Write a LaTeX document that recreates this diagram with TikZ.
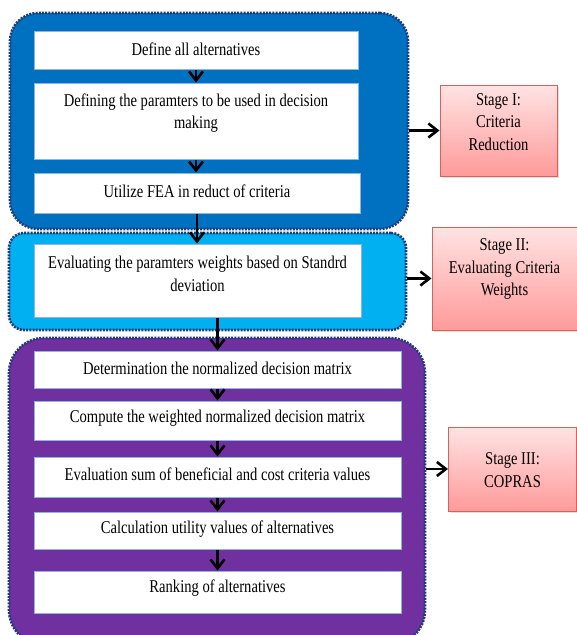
\documentclass[tikz,border=0pt]{standalone}
\usepackage{fontspec}
\setmainfont[FakeStretch=0.81]{Liberation Serif}
\usetikzlibrary{arrows.meta,shadows}
\definecolor{cblue}{HTML}{0070C0}
\definecolor{clight}{HTML}{00B0F0}
\definecolor{cpurple}{HTML}{7030A0}
\definecolor{cnavy}{HTML}{1F3C78}
\definecolor{boxline}{HTML}{8EB4E3}
\definecolor{stagetop}{HTML}{FFE3E3}
\definecolor{stagebot}{HTML}{FF9A9A}
\definecolor{stageline}{HTML}{D9605C}
\begin{document}
\begin{tikzpicture}[x=1pt,y=-1pt,
  container/.style={draw=cnavy, line width=2.6pt, dash pattern=on 2pt off 1.2pt, inner sep=0pt},
  inbox/.style={draw=boxline, fill=white, line width=1pt, inner sep=0pt},
  stagebox/.style={draw=stageline, line width=1pt, top color=stagetop, bottom color=stagebot,
    inner sep=0pt, drop shadow={shadow xshift=2pt, shadow yshift=-2pt, opacity=0.25}},
  txt/.style={align=center, inner sep=0pt, font=\fontsize{18}{22.5}\selectfont},
  flow/.style={line width=2.6pt, -{Straight Barb[length=9pt,width=14pt,line width=2.6pt]}}
]
\useasboundingbox (0,0) rectangle (577,635);

% containers
\node[container, fill=cblue, rounded corners=28pt, minimum width=398pt, minimum height=216pt] (c1) at (209,121) {};
\node[container, fill=clight, rounded corners=15pt, minimum width=397pt, minimum height=97pt] (c2) at (207.5,281.5) {};
\node[container, fill=cpurple, rounded corners=35pt, minimum width=416pt, minimum height=307pt] (c3) at (217,491.5) {};

% inner boxes
\node[inbox, minimum width=324pt, minimum height=38pt] (A) at (196,50) {};
\node[inbox, minimum width=324pt, minimum height=76pt] (B) at (196,121) {};
\node[inbox, minimum width=326pt, minimum height=40pt] (C) at (197,193) {};
\node[inbox, minimum width=327pt, minimum height=73pt] (D) at (197.5,280.5) {};
\node[inbox, minimum width=367pt, minimum height=37pt] (E) at (217.5,369.5) {};
\node[inbox, minimum width=367pt, minimum height=39pt] (F) at (217.5,420.5) {};
\node[inbox, minimum width=367pt, minimum height=40pt] (G) at (217.5,477) {};
\node[inbox, minimum width=367pt, minimum height=37pt] (H) at (217.5,530.5) {};
\node[inbox, minimum width=367pt, minimum height=42pt] (I) at (217.5,592) {};

% texts of inner boxes
\node[txt] (tA) at (196,49) {Define all alternatives};
\node[txt] (tB) at (196,113) {Defining the paramters to be used in decision\\making};
\node[txt] (tC) at (197,191) {Utilize FEA in reduct of criteria};
\node[txt] (tD) at (197.5,274) {Evaluating the paramters weights based on Standrd\\deviation};
\node[txt] (tE) at (217.5,368) {Determination the normalized decision matrix};
\node[txt] (tF) at (217.5,418) {Compute the weighted normalized decision matrix};
\node[txt] (tG) at (217.5,474) {Evaluation sum of beneficial and cost criteria values};
\node[txt] (tH) at (217.5,529) {Calculation utility values of alternatives};
\node[txt] (tI) at (217.5,588) {Ranking of alternatives};

% stage boxes
\node[stagebox, minimum width=117pt, minimum height=91pt] (S1) at (498.5,130.5) {};
\node[stagebox, minimum width=145pt, minimum height=103pt] (S2) at (504.5,278.5) {};
\node[stagebox, minimum width=128pt, minimum height=84pt] (S3) at (512.5,469) {};
\node[txt] (tS1) at (498.5,122) {Stage I:\\Criteria\\Reduction};
\node[txt] (tS2) at (504.5,269) {Stage II:\\Evaluating Criteria\\Weights};
\node[txt] (tS3) at (512.5,470) {Stage III:\\COPRAS};

% flow arrows
\draw[flow] (A.south) -- (B.north);
\draw[flow] (B.south) -- (B.south |- C.north);
\draw[flow] (C.south) -- (C.south |- D.north);
\draw[flow] (E.north |- D.south) -- (E.north);
\draw[flow] (E.south) -- (F.north);
\draw[flow] (F.south) -- (G.north);
\draw[flow] (G.south) -- (H.north);
\draw[flow] (H.south) -- (I.north);

% stage arrows
\draw[flow] (c1.east |- S1.west) -- (S1.west);
\draw[flow] (c2.east |- S2.west) -- (S2.west);
\draw[flow] (c3.east |- S3.west) -- (S3.west);
\end{tikzpicture}
\end{document}
